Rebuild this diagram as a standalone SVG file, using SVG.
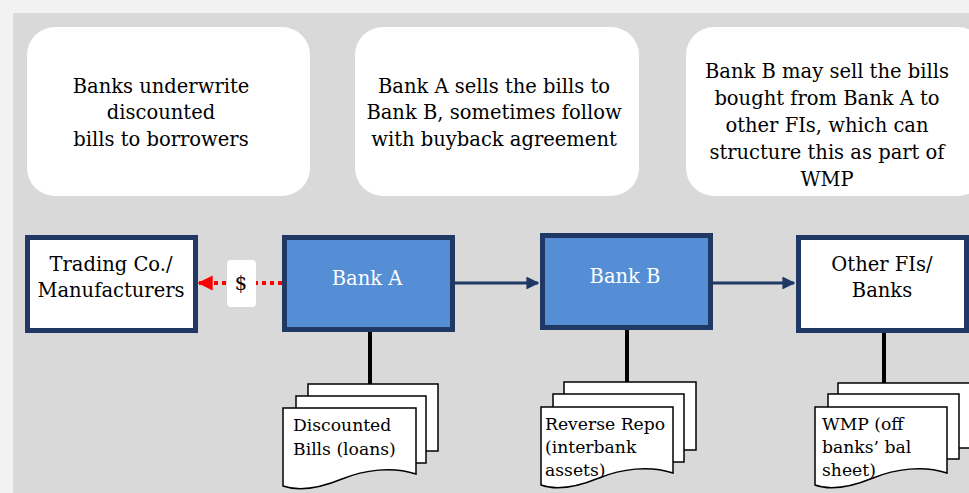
<svg xmlns="http://www.w3.org/2000/svg" width="969" height="493" viewBox="0 0 969 493">
<defs>
<style>
.t{font-family:"DejaVu Serif","Liberation Serif",serif;font-size:19.5px;fill:#000;text-anchor:middle}
.tw{fill:#fff}
.tl{text-anchor:start;font-size:17.2px}
.note{fill:#fff;stroke:none}
.box{stroke:#1f3864;stroke-width:5}
.doc{fill:#fff;stroke:#000;stroke-width:1.5}
.stem{stroke:#000;stroke-width:4}
</style>
<marker id="ah" viewBox="0 0 10 10" refX="9" refY="5" markerWidth="4.3" markerHeight="4.3" orient="auto" markerUnits="strokeWidth"><path d="M0,0L10,5L0,10Z" fill="#1f3864"/></marker>
<marker id="ahr" viewBox="0 0 10 10" refX="9" refY="5" markerWidth="3.8" markerHeight="3.8" orient="auto" markerUnits="strokeWidth"><path d="M0,0L10,5L0,10Z" fill="#ff0000"/></marker>
</defs>
<rect width="969" height="493" fill="#f2f2f2"/>
<rect x="13" y="13" width="956" height="480" fill="#d9d9d9"/>

<g id="note1"><rect class="note" x="27" y="27" width="283" height="169" rx="28"/>
<text class="t" x="161" y="93">Banks underwrite</text><text class="t" x="161" y="119">discounted</text><text class="t" x="161" y="146">bills to borrowers</text></g>
<g id="note2"><rect class="note" x="355" y="27" width="284" height="169" rx="28"/>
<text class="t" x="494" y="93">Bank A sells the bills to</text><text class="t" x="494" y="119">Bank B, sometimes follow</text><text class="t" x="494" y="146">with buyback agreement</text></g>
<g id="note3"><rect class="note" x="686" y="27" width="300" height="169" rx="28"/>
<text class="t" x="827" y="78">Bank B may sell the bills</text><text class="t" x="827" y="105">bought from Bank A to</text><text class="t" x="827" y="132">other FIs, which can</text><text class="t" x="827" y="159">structure this as part of</text><text class="t" x="827" y="186">WMP</text></g>

<g id="connectors">
<line x1="455" y1="283" x2="538" y2="283" stroke="#1f3864" stroke-width="3" marker-end="url(#ah)"/>
<line x1="712" y1="283" x2="794" y2="283" stroke="#1f3864" stroke-width="3" marker-end="url(#ah)"/>
<line x1="282" y1="283" x2="199" y2="283" stroke="#ff0000" stroke-width="4" stroke-dasharray="4 4" marker-end="url(#ahr)"/>
<line class="stem" x1="370" y1="332" x2="370" y2="385"/>
<line class="stem" x1="627" y1="330" x2="627" y2="383"/>
<line class="stem" x1="884" y1="332" x2="884" y2="384"/>
</g>

<g id="dollar"><rect x="227" y="260" width="29" height="47" rx="4" fill="#fff"/><text class="t" x="241" y="290">$</text></g>

<g id="trading"><rect class="box" x="27.5" y="237.5" width="168" height="93" fill="#fff"/>
<text class="t" x="111" y="271">Trading Co./</text><text class="t" x="111" y="297">Manufacturers</text></g>
<g id="bankA"><rect class="box" x="284.5" y="237.5" width="168" height="92" fill="#558ed5"/>
<text class="t tw" x="367" y="285">Bank A</text></g>
<g id="bankB"><rect class="box" x="542.5" y="235.5" width="168" height="92" fill="#558ed5"/>
<text class="t tw" x="625" y="283">Bank B</text></g>
<g id="otherFIs"><rect class="box" x="798.5" y="237.5" width="168" height="93" fill="#fff"/>
<text class="t" x="882" y="271">Other FIs/</text><text class="t" x="882" y="297">Banks</text></g>

<g id="docA">
<rect class="doc" x="308" y="384" width="130" height="67"/>
<rect class="doc" x="296" y="396" width="130" height="67"/>
<path class="doc" d="M283,408H416V474C392,466 364,470 342,479C320,488 300,492 283,486Z"/>
<text class="t tl" x="293" y="431">Discounted</text><text class="t tl" x="293" y="455">Bills (loans)</text></g>
<g id="docB">
<rect class="doc" x="564" y="382" width="132" height="68"/>
<rect class="doc" x="553" y="394" width="131" height="68"/>
<path class="doc" d="M541,407H673V473C649,465 621,469 599,478C577,487 557,491 541,485Z"/>
<text class="t tl" x="545" y="430">Reverse Repo</text><text class="t tl" x="545" y="453">(interbank</text><text class="t tl" x="545" y="476">assets)</text></g>
<g id="docC">
<rect class="doc" x="838" y="383" width="140" height="65"/>
<rect class="doc" x="828" y="394" width="131" height="65"/>
<path class="doc" d="M815,407H947V473C923,465 895,469 873,478C851,487 831,491 815,485Z"/>
<text class="t tl" x="822" y="430">WMP (off</text><text class="t tl" x="822" y="453">banks’ bal</text><text class="t tl" x="822" y="476">sheet)</text></g>
</svg>
